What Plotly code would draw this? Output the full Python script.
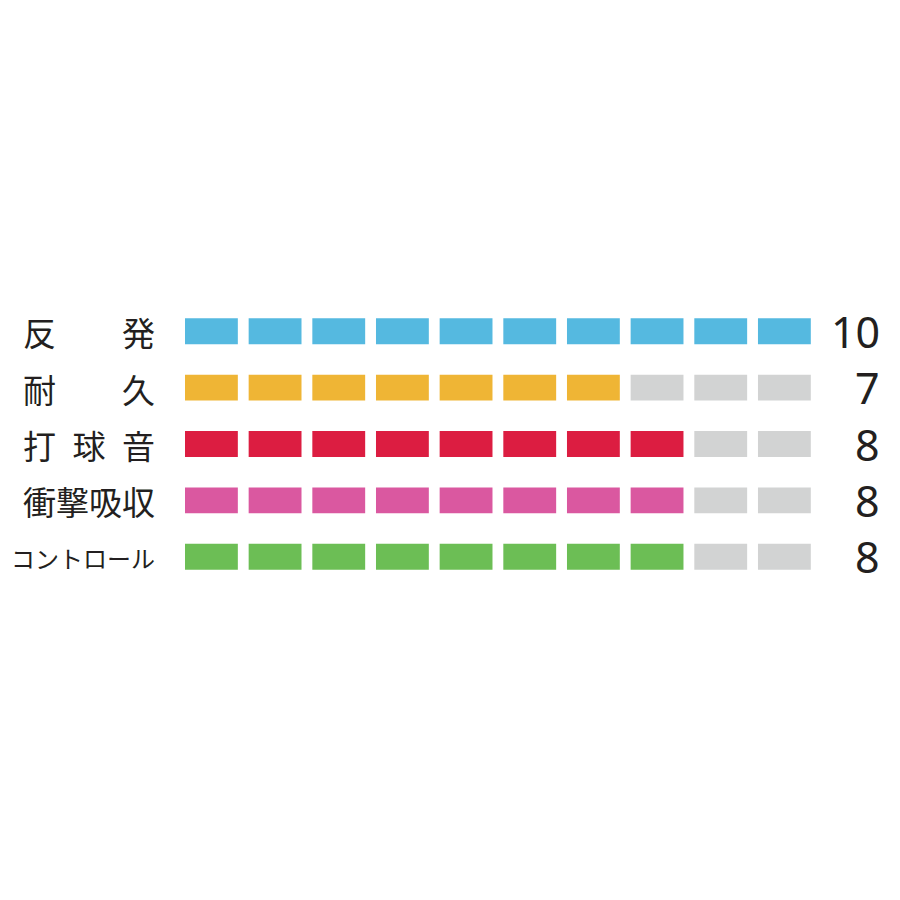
import plotly.graph_objects as go

# rating labels (top to bottom) and scores out of 10
labels = ["反\u3000\u3000発", "耐\u3000\u3000久", "打\u2002球\u2002音", "衝撃吸収", "コントロール"]
scores = [10, 7, 8, 8, 8]
max_score = 10
colors = ["#55B9E0", "#EFB535", "#DC1D41", "#DA58A0", "#6CBE55"]
empty_color = "#D2D3D3"

fig = go.Figure()

# one bar trace per block position, coloured if the score reaches it
for k in range(max_score):
    fig.add_trace(go.Bar(
        y=labels,
        x=[0.83] * len(labels),
        base=[k] * len(labels),
        orientation="h",
        width=0.46,
        marker=dict(color=[c if k < s else empty_color for c, s in zip(colors, scores)],
                    line=dict(width=0)),
        showlegend=False,
        hoverinfo="skip",
    ))

# left labels and right score numbers
for i, (lab, s) in enumerate(zip(labels, scores)):
    size = 24 if i == len(labels) - 1 else 33
    fig.add_annotation(x=0, xref="paper", y=lab, yref="y", text=lab,
                       xanchor="right", xshift=-28, yshift=-1, showarrow=False,
                       font=dict(family="Noto Sans CJK JP", size=size, color="#231F20"))
    fig.add_annotation(x=1, xref="paper", y=lab, yref="y", text=str(s),
                       xanchor="right", xshift=71, showarrow=False,
                       font=dict(family="Noto Sans", size=43, color="#231F20"))

fig.update_xaxes(range=[0, 9.833], visible=False)
fig.update_yaxes(autorange=False, range=[4.5, -0.5], visible=False, type="category",
                 categoryorder="array", categoryarray=labels)
fig.update_layout(
    width=900, height=900,
    margin=dict(l=177, r=97, t=295, b=323),
    paper_bgcolor="white", plot_bgcolor="white",
    barmode="overlay",
)

fig.write_html("out.html")
